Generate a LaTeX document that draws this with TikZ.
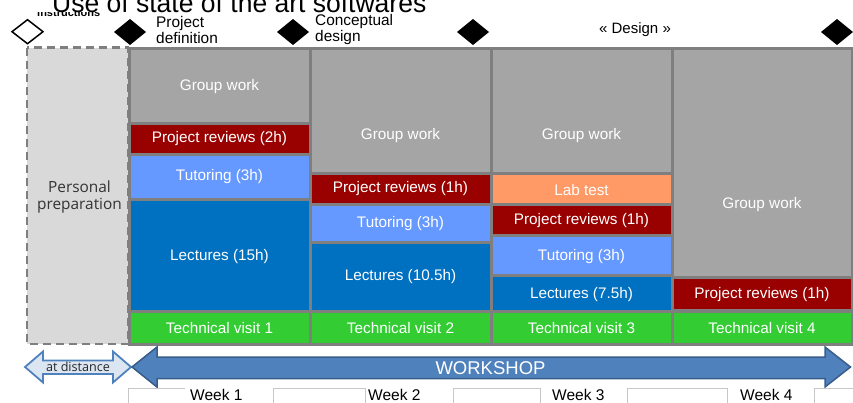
\documentclass[tikz,border=0pt]{standalone}
\usepackage{fontspec}
\setmainfont{Liberation Sans}
\newfontfamily\segfont{Open Sans}

\definecolor{gridgray}{HTML}{7F7F7F}
\definecolor{gwgray}{HTML}{A5A5A5}
\definecolor{prred}{HTML}{990000}
\definecolor{tutblue}{HTML}{6699FF}
\definecolor{lecblue}{HTML}{0070C0}
\definecolor{tvgreen}{HTML}{33CC33}
\definecolor{laborange}{HTML}{FF9966}
\definecolor{prepgray}{HTML}{D9D9D9}
\definecolor{wsblue}{HTML}{4F81BD}
\definecolor{wsborder}{HTML}{385D8A}
\definecolor{distfill}{HTML}{DCE6F2}
\definecolor{weekline}{HTML}{C8C8C8}

\tikzset{
  celltext/.style={text=white, inner sep=0pt, font=\fontsize{15.3}{17}\selectfont},
  milestone/.style={inner sep=0pt, align=left, anchor=west, font=\fontsize{15.4}{16}\selectfont},
  weektext/.style={inner sep=0pt, anchor=base west, font=\fontsize{15.5}{17}\selectfont},
  weekbox/.style={draw=weekline, line width=0.8pt},
  bigarrow/.style={fill=wsblue, draw=wsborder, line width=1.5pt, line join=miter},
  distarrow/.style={fill=distfill, draw=wsblue, line width=1.8pt, line join=miter}
}

\begin{document}
\begin{tikzpicture}[x=1pt,y=-1pt]
\useasboundingbox (0,0) rectangle (853,402);
\clip (0,0) rectangle (853,402);

\node [inner sep=0pt, anchor=base west, font=\bfseries\fontsize{11}{12}\selectfont] (instr) at (37,16.5) {instructions};
\fill [white] (30,-2) rectangle (118,11.5);
\node [inner sep=0pt, anchor=base west, font=\fontsize{26.5}{28}\selectfont] (soft) at (52,12.7) {Use of state of the art softwares};

\draw [line width=1.5pt, fill=white] (12,31.7) -- (27.5,19.7) -- (43,31.7) -- (27.5,43.7) -- cycle;
\foreach \x in {130,293,473,837}
{
    \fill (\x-16,32) -- (\x,19) -- (\x+16,32) -- (\x,45) -- cycle;
}
\node [milestone] (projdef) at (156,30) {Project\\definition};
\node [milestone] (concdes) at (315,30) {Conceptual\\design};
\node [inner sep=0pt, font=\fontsize{15}{16}\selectfont] (design) at (635,30) {« Design »};

\draw [draw=gridgray, fill=prepgray, line width=2.5pt, dash pattern=on 8pt off 5pt] (27,47.5) rectangle (128,344);
\node [inner sep=0pt, align=center, text=black!80, font=\segfont\fontsize{15.4}{17.5}\selectfont] (prep) at (79.5,197) {Personal\\preparation};

\fill [gridgray] (128,46.5) rectangle (853,345.5);
\foreach \xa/\xb/\ya/\yb/\c in {
    130.5/308.5/50/122/gwgray, 130.5/308.5/125/153/prred, 130.5/308.5/156/198/tutblue,
    130.5/308.5/201/310/lecblue, 130.5/308.5/313/342.5/tvgreen,
    311.5/489.5/50/172/gwgray, 311.5/489.5/175/203/prred, 311.5/489.5/206/241/tutblue,
    311.5/489.5/244/310/lecblue, 311.5/489.5/313/342.5/tvgreen,
    492.5/670.5/50/172/gwgray, 492.5/670.5/175/203/laborange, 492.5/670.5/206/234/prred,
    492.5/670.5/237/274/tutblue, 492.5/670.5/277/310/lecblue, 492.5/670.5/313/342.5/tvgreen,
    673.5/851/50/276/gwgray, 673.5/851/279/309/prred, 673.5/851/313/342.5/tvgreen}
{
    \fill [\c] (\xa,\ya) rectangle (\xb,\yb);
}
\foreach \n/\x/\y/\t in {
    gwa/219.5/86.5/{Group work}, pra/219.5/139/{Project reviews (2h)}, tuta/219.5/177/{Tutoring (3h)},
    leca/219.5/256.5/{Lectures (15h)}, tva/219.5/328/{Technical visit 1},
    gwb/400.5/136/{Group work}, prb/400.5/189/{Project reviews (1h)}, tutb/400.5/224/{Tutoring (3h)},
    lecb/400.5/277/{Lectures (10.5h)}, tvb/400.5/328/{Technical visit 2},
    gwc/581.5/136/{Group work}, labc/581.5/190/{Lab test}, prc/581.5/220.5/{Project reviews (1h)},
    tutc/581.5/256.5/{Tutoring (3h)}, lecc/581.5/295/{Lectures (7.5h)}, tvc/581.5/328/{Technical visit 3},
    gwd/762/205/{Group work}, prd/762/294.5/{Project reviews (1h)}, tvd/762/328/{Technical visit 4}}
{
    \node [celltext] (\n) at (\x,\y) {\t};
}

\draw [distarrow] (25,367) -- (43,351.5) -- (43,360.5) -- (113,360.5) -- (113,351.5) -- (131,367)
    -- (113,382.5) -- (113,374) -- (43,374) -- (43,382.5) -- cycle;
\node [inner sep=0pt, text=black!85, font=\segfont\fontsize{12.6}{14}\selectfont] (dist) at (78,367) {at distance};
\draw [bigarrow] (132,367) -- (157,347) -- (157,357) -- (825,357) -- (825,347) -- (850.5,367)
    -- (825,387) -- (825,378.5) -- (157,378.5) -- (157,387) -- cycle;
\node [inner sep=0pt, text=white, font=\fontsize{18.5}{20}\selectfont] (ws) at (490.5,368) {WORKSHOP};

\draw [weekbox] (128,405) -- (128,388) -- (185,388);
\foreach \a/\b in {273/365,453/540,627/727,814/860}
{
    \draw [weekbox] (\a,405) -- (\a,388) -- (\b,388) -- (\b,405);
}
\node [weektext] (wka) at (190,400) {Week 1};
\node [weektext] (wkb) at (368,400) {Week 2};
\node [weektext] (wkc) at (552,400) {Week 3};
\node [weektext] (wkd) at (740,400) {Week 4};
\end{tikzpicture}
\end{document}
